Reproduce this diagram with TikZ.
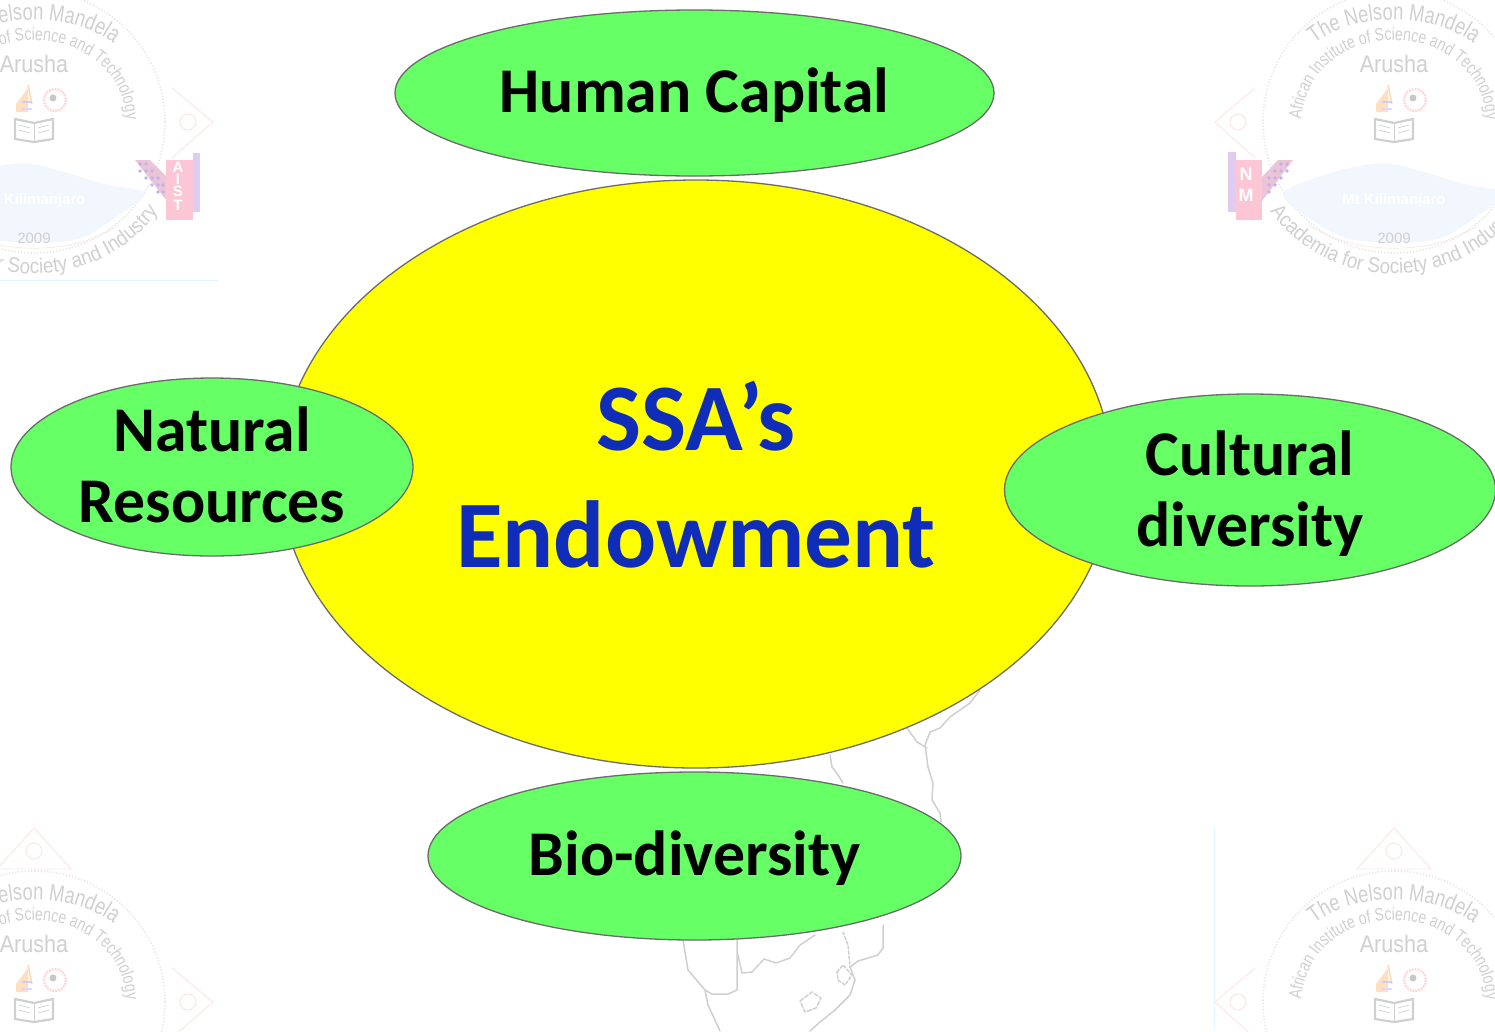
\documentclass[tikz,border=0pt]{standalone}
\usepackage{fontspec}
\setmainfont{Carlito}
\newfontfamily\wmfont{Liberation Sans}
\newfontfamily\wmfontn[FakeStretch=0.78]{Liberation Sans}
\newfontfamily\wmfontm[FakeStretch=0.9]{Liberation Sans}
\usetikzlibrary{shapes.geometric,decorations.text}
\definecolor{leafgreen}{HTML}{66FF66}
\definecolor{sunyellow}{HTML}{FFFF00}
\definecolor{titleblue}{HTML}{0F2DB8}
\definecolor{wmgray}{HTML}{D0D0D0}
\definecolor{wmdot}{HTML}{E6E6E6}
\definecolor{wmpink}{HTML}{FBE6E4}
\definecolor{wmice}{HTML}{F1F7FC}
\definecolor{wmmap}{HTML}{CFCFCF}
\definecolor{logopink}{HTML}{FDC6D4}
\definecolor{logolilac}{HTML}{E0CCF2}
\definecolor{logowing}{HTML}{EBC4D8}
\definecolor{logodot}{HTML}{BDB2EA}
\tikzset{
  blob/.style={ellipse,draw=black!58,line width=1.3pt,inner sep=0pt},
  sideblob/.style={blob,fill=leafgreen},
  centreblob/.style={blob,fill=sunyellow},
  sidelabel/.style={text=black,align=center,inner sep=0pt,font=\bfseries\fontsize{63.7}{71}\selectfont},
  centrelabel/.style={text=titleblue,align=center,inner sep=0pt,font=\bfseries\fontsize{95.3}{117}\selectfont},
  wmline/.style={wmmap,line width=1.5pt,line join=round,line cap=round},
  wmtext/.style={text=wmgray,inner sep=0pt,font=\wmfont\fontsize{#1}{#1}\selectfont},
  wmcurve/.style={decorate,decoration={text along path,text align=center,
     text format delimiters={|}{|},text={#1}}},
}
\newcommand{\wmseal}[2]{%
\begin{scope}[shift={(#1,#2)}]
  % pennants
  \draw[wmpink,line width=.9pt,fill=white] (0,-52) -- (37,-11) -- (-37,-11) -- cycle;
  \draw[wmpink,line width=1pt] (0,-29) circle[radius=8];
  \draw[wmpink,line width=.9pt] (138,88) -- (179,122) -- (138,158);
  \draw[wmpink,line width=1pt] (154,122) circle[radius=8];
  \draw[wmpink,line width=.9pt] (-139,88) -- (-179,122) -- (-139,158);
  \draw[wmpink,line width=1pt] (-156,122) circle[radius=8];
  % ring
  \draw[wmdot,line width=1.6pt,dash pattern=on 1.2pt off 2pt] (0,122) circle[radius=131];
  \draw[wmpink,line width=.7pt] (-85,225) .. controls (-40,256) and (40,256) .. (85,225);
  % mountain
  \fill[wmice] plot[smooth cycle] coordinates {(-111,193) (-60,172) (-10,163) (30,172) (70,184) (111,193) (85,215) (40,240) (-40,240) (-85,218)};
  \node[text=white,font=\wmfont\bfseries\fontsize{15}{15}\selectfont] (km#1#2) at (0,201) {Mt Kilimanjaro};
  \node[wmtext=15] (yr#1#2) at (0,238) {2009};
  \node[text=wmgray,inner sep=0pt,font=\wmfontm\fontsize{24}{24}\selectfont] (ar#1#2) at (0,64) {Arusha};
  % texts on arcs
  \path[wmcurve={|\wmfontn\fontsize{23.5}{24}\selectfont\color{wmgray}|The Nelson Mandela}]
     (-88,52) .. controls (-50,9) and (50,9) .. (88,52);
  \path[wmcurve={|\wmfontn\fontsize{18}{18}\selectfont\color{wmgray}|African Institute of Science and Technology}]
     (-93,125) .. controls (-89,12) and (89,12) .. (93,125);
  \path[wmcurve={|\wmfontm\fontsize{21}{21}\selectfont\color{wmgray}|Academia for Society and Industry}]
     (-135,195) .. controls (-75,300) and (75,300) .. (135,195);
  % microscope
  \fill[orange!25] (-18,104) -- (-6,88) -- (-6,112) -- (-18,112) -- cycle;
  \draw[orange!30,line width=1.5pt] (-6,85) -- (-2,104);
  \draw[blue!20,line width=2pt] (-12,102) -- (-2,102);
  \draw[blue!15,line width=2pt] (-12,109) -- (-2,109);
  % gear
  \draw[red!15,line width=2.4pt,dash pattern=on 2pt off 1pt] (21,100) circle[radius=11];
  \fill[black!22] (19,98) circle[radius=3.5];
  % book
  \draw[wmgray,line width=2.2pt,fill=white] (-19,119) -- (-19,139) -- (0,142) -- (19,139) -- (19,119) -- (0,123) -- cycle;
  \draw[wmgray,line width=1pt] (0,123) -- (0,142);
  \draw[wmgray,line width=.7pt] (-15,125) -- (-4,128) (-15,130) -- (-4,133) (15,125) -- (4,128) (15,130) -- (4,133);
\end{scope}}
\begin{document}
\begin{tikzpicture}[x=1pt,y=-1pt]
\clip (0,0) rectangle (1495,1031);
\fill[white] (0,0) rectangle (1495,1031);
% watermark seals
\wmseal{34}{0}
\wmseal{1394}{0}
\wmseal{34}{880}
\wmseal{1394}{880}
\draw[cyan!12,line width=1pt] (0,280) -- (218,280);
\draw[cyan!12,line width=1pt] (1214,826) -- (1214,1031);
% AIST logo
\fill[logowing] (135,160) -- (150,160) -- (167,177) -- (167,201) -- cycle;
\foreach \a/\b in {140/164,146/164,140/171,146/171,152/171,146/178,152/178,158/178,152/185,158/185,163/185,158/192,163/192}
  \fill[logodot] (\a,\b) circle[radius=1.8];
\fill[logolilac] (193,153) rectangle (200,212);
\fill[logopink] (166,160) rectangle (193,220);
\foreach \l/\y in {A/167,I/179,S/191,T/205}
  \node[text=white,font=\wmfont\bfseries\fontsize{15}{15}\selectfont] (aist\l) at (178,\y) {\l};
% NM logo
\fill[logowing] (1293,160) -- (1278,160) -- (1262,177) -- (1262,201) -- cycle;
\foreach \a/\b in {1287/164,1281/164,1287/171,1281/171,1275/171,1281/178,1275/178,1269/178,1275/185,1269/185,1269/192}
  \fill[logodot] (\a,\b) circle[radius=1.8];
\fill[logolilac] (1228,152) rectangle (1236,212);
\fill[logopink] (1236,160) rectangle (1262,220);
\node[text=white,font=\wmfont\bfseries\fontsize{18}{18}\selectfont] (nmN) at (1246,174) {N};
\node[text=white,font=\wmfont\bfseries\fontsize{18}{18}\selectfont] (nmM) at (1246,195) {M};
% faint map of Africa
\begin{scope}[wmline]
  \draw (980,690) -- (970,703) -- (950,717) -- (940,728) -- (930,732) -- (925,745) -- (928,767) -- (933,783) -- (932,800) -- (940,813) -- (941,822);
  \draw (907,728) -- (917,742) -- (927,748);
  \draw (830,755) -- (832,767) -- (838,775) -- (843,783);
  \draw (683,940) -- (688,970) -- (705,990) -- (708,1005) -- (720,1031);
  \draw (737,940) -- (737,990) -- (728,994) -- (712,994) -- (705,990);
  \draw[dash pattern=on 4pt off 1pt] (738,955) -- (742,973) -- (752,972) -- (764,959) -- (776,963) -- (790,958) -- (800,945) -- (815,935);
  \draw (883,925) -- (883,948) -- (878,955) -- (858,961) -- (850,967) -- (855,980) -- (850,995) -- (835,1010) -- (820,1022) -- (810,1031);
  \draw[dash pattern=on 3pt off 2pt] (843,932) -- (848,945) -- (850,967);
  \draw[dash pattern=on 3pt off 2pt] (837,972) -- (843,965) -- (852,975) -- (845,985) -- (838,980) -- cycle;
  \draw[dash pattern=on 4pt off 2pt] (800,1001) -- (812,992) -- (821,998) -- (816,1008) -- (805,1012) -- cycle;
\end{scope}
% diagram
\node[centreblob,minimum width=832pt,minimum height=588pt] (endow) at (696,474) {};
\node[sideblob,minimum width=599pt,minimum height=166pt] (human) at (694.5,93) {};
\node[sideblob,minimum width=402pt,minimum height=178pt] (natural) at (212,467) {};
\node[sideblob,minimum width=491pt,minimum height=192pt] (cultural) at (1250,490) {};
\node[sideblob,minimum width=533pt,minimum height=168pt] (bio) at (694.5,856) {};
\node[centrelabel] (endowText) at (696,475) {SSA’s\\Endowment};
\node[sidelabel] (humanText) at (694.5,95) {Human Capital};
\node[sidelabel] (naturalText) at (212,465) {Natural\\Resources};
\node[sidelabel] (culturalText) at (1250,494) {Cultural\\diversity};
\node[sidelabel] (bioText) at (694.5,858) {Bio-diversity};
\end{tikzpicture}
\end{document}
